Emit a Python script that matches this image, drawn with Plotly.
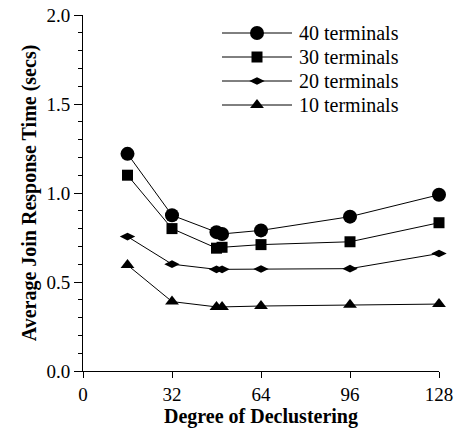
import plotly.graph_objects as go

# ---- data ----
degree = [16, 32, 48, 50, 64, 96, 128]
t40 = [1.22, 0.875, 0.78, 0.77, 0.79, 0.867, 0.99]
t30 = [1.10, 0.80, 0.69, 0.695, 0.71, 0.726, 0.833]
t20 = [0.755, 0.60, 0.571, 0.571, 0.573, 0.575, 0.66]
t10 = [0.595, 0.39, 0.36, 0.36, 0.365, 0.372, 0.376]
labels = ["40 terminals", "30 terminals", "20 terminals", "10 terminals"]
x_ticks = [0, 32, 64, 96, 128]
y_ticks = [0.0, 0.5, 1.0, 1.5, 2.0]

series = [t40, t30, t20, t10]
symbols = ["circle", "square", "diamond-wide", "triangle-up"]
sizes = [14, 11, 11, 12]

FONT = "Liberation Serif, Times New Roman, serif"

# plot area in page pixels
W, H = 454, 429
PX_L, PX_R, PX_T, PX_B = 83, 439, 15, 371
ML, MT, MR, MB = PX_L, PX_T, W - PX_R, H - PX_B

fig = go.Figure()
for vals, lab, sym, sz in zip(series, labels, symbols, sizes):
    fig.add_trace(go.Scatter(
        x=degree, y=vals, mode="lines+markers", name=lab,
        line=dict(color="black", width=1),
        marker=dict(symbol=sym, size=sz, color="black"),
        cliponaxis=False, showlegend=False))

# custom legend drawn on an overlay axis measured in page pixels
leg_rows = [33, 57, 81, 105]
leg_x0, leg_x1, leg_text = 222, 292, 297
for row, lab, sym, sz in zip(leg_rows, labels, symbols, sizes):
    fig.add_trace(go.Scatter(
        x=[leg_x0, leg_x1], y=[row, row], mode="lines",
        line=dict(color="black", width=1), xaxis="x2", yaxis="y2",
        showlegend=False, hoverinfo="skip", cliponaxis=False))
    fig.add_trace(go.Scatter(
        x=[(leg_x0 + leg_x1) / 2], y=[row], mode="markers",
        marker=dict(symbol=sym, size=sz, color="black"),
        xaxis="x2", yaxis="y2", showlegend=False, hoverinfo="skip",
        cliponaxis=False))
    fig.add_annotation(x=leg_text, y=row, xref="x2", yref="y2", text=lab,
                       showarrow=False, xanchor="left", yanchor="middle",
                       font=dict(family=FONT, size=20, color="black"))

fig.update_layout(
    width=W, height=H, autosize=False,
    margin=dict(l=ML, r=MR, t=MT, b=MB, pad=0, autoexpand=False),
    paper_bgcolor="white", plot_bgcolor="white",
    font=dict(family=FONT, color="black"),
    xaxis=dict(range=[0, 128], tickvals=x_ticks, ticktext=[str(v) for v in x_ticks],
               showgrid=False, zeroline=False, showline=True, linecolor="black",
               linewidth=1, ticks="outside", ticklen=6, tickcolor="black",
               tickfont=dict(family=FONT, size=19), ticklabeloverflow="allow",
               automargin=False,
               title=dict(text="<b>Degree of Declustering</b>",
                          font=dict(family=FONT, size=20), standoff=2)),
    yaxis=dict(range=[0, 2], tickvals=y_ticks, ticktext=["%.1f" % v for v in y_ticks],
               showgrid=False, zeroline=False, showline=True, linecolor="black",
               linewidth=1, ticks="outside", ticklen=8, tickcolor="black",
               tickfont=dict(family=FONT, size=19), ticklabeloverflow="allow",
               automargin=False,
               minor=dict(dtick=0.1, ticks="outside", ticklen=4, tickcolor="black"),
               title=dict(text="<b>Average Join Response Time (secs)</b>",
                          font=dict(family=FONT, size=20), standoff=4)),
    xaxis2=dict(range=[PX_L, PX_R], overlaying="x", visible=False, fixedrange=True),
    yaxis2=dict(range=[PX_B, PX_T], overlaying="y", visible=False, fixedrange=True),
)

fig.write_html(
    "out.html",
    config={"displayModeBar": False, "responsive": False},
    post_script="document.body.style.margin='0';document.body.style.overflow='hidden';",
)
